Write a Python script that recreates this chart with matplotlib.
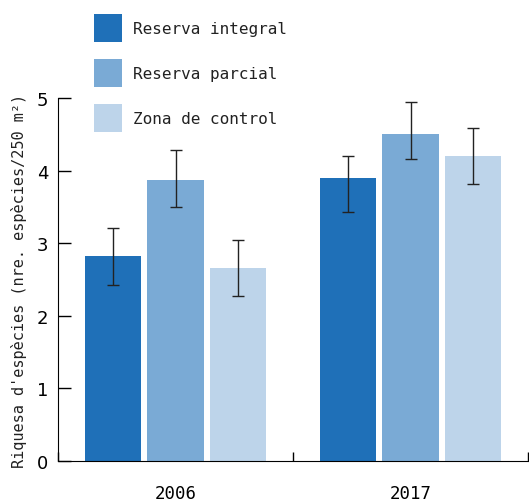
import matplotlib
matplotlib.use("Agg")
import matplotlib.pyplot as plt
import numpy as np

years = ["2006", "2017"]
series = ["Reserva integral", "Reserva parcial", "Zona de control"]
values = {
    "Reserva integral": [2.82, 3.90],
    "Reserva parcial": [3.87, 4.50],
    "Zona de control": [2.66, 4.20],
}
err_low = {
    "Reserva integral": [0.39, 0.475],
    "Reserva parcial": [0.37, 0.34],
    "Zona de control": [0.39, 0.385],
}
err_high = {
    "Reserva integral": [0.39, 0.305],
    "Reserva parcial": [0.42, 0.44],
    "Zona de control": [0.39, 0.39],
}
colors = ["#1f70b8", "#7aaad5", "#bdd4ea"]

mono = ["DejaVu Sans Mono"]

fig = plt.figure(figsize=(5.29, 5.02), dpi=100)
ax = fig.add_axes([58/529, 40/502, 470/529, 363/502])

offsets = [-0.265, 0.0, 0.265]
width = 0.24
centers = np.arange(len(years)) + 0.5
handles = []
for s, off, c in zip(series, offsets, colors):
    yerr = np.array([err_low[s], err_high[s]])
    b = ax.bar(centers + off, values[s], width=width, color=c, label=s,
               yerr=yerr, error_kw=dict(ecolor="#222222", elinewidth=1.0,
                                        capsize=4.5, capthick=1.0))
    handles.append(b)

ax.set_xlim(0, len(years))
ax.set_ylim(0, 5)
ax.set_yticks([0, 1, 2, 3, 4, 5])
ax.set_xticks([0, 1, 2])
ax.set_xticklabels([])
ax.set_xticks(centers, minor=True)
ax.set_xticklabels(years, minor=True, fontsize=12.5, family=mono)
ax.tick_params(axis="x", which="major", direction="in", length=6.5, width=1)
ax.tick_params(axis="x", which="minor", length=0, pad=16.5)
ax.tick_params(axis="y", direction="in", length=9, width=1, pad=7, labelsize=13)
for sp in ["top", "right"]:
    ax.spines[sp].set_visible(False)
ax.set_ylabel("Riquesa d'espècies (nre. espècies/250 m²)", family=mono,
              fontsize=11, labelpad=7, color="#222222")

leg = fig.legend(handles=handles, labels=series, loc="upper left",
                 bbox_to_anchor=(80/529, 1 - 1/502), frameon=False,
                 prop={"family": mono, "size": 11.5}, handlelength=1.75,
                 handleheight=2.315, labelspacing=1.06, handletextpad=0.69)
for t in leg.get_texts():
    t.set_color("#222222")

fig.savefig("out.png", dpi=100)
